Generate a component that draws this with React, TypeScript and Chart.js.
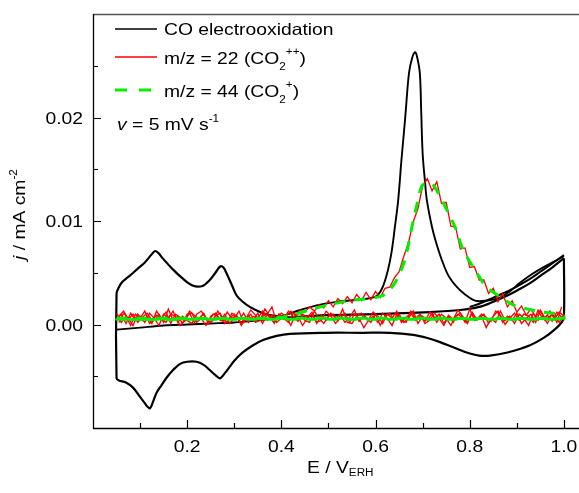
import React, { useEffect, useRef } from "react";
import { Chart, registerables } from "chart.js";

Chart.register(...registerables);

const FONT = "'Liberation Sans', Arial, sans-serif";
const SX = 1.17;

// Potential grids (V vs ERH)
const E_GRID = [0.05,0.06,0.07,0.08,0.09,0.10,0.11,0.12,0.13,0.14,0.15,0.16,0.17,0.18,0.19,0.20,0.21,0.22,0.23,0.24,0.25,0.26,0.27,0.28,0.29,0.30,0.31,0.32,0.33,0.34,0.35,0.36,0.37,0.38,0.39,0.40,0.41,0.42,0.43,0.44,0.45,0.46,0.47,0.48,0.49,0.50,0.51,0.52,0.53,0.54,0.55,0.56,0.57,0.58,0.59,0.60,0.61,0.62,0.63,0.64,0.65,0.66,0.67,0.68,0.69,0.70,0.71,0.72,0.73,0.74,0.75,0.76,0.77,0.78,0.79,0.80,0.81,0.82,0.83,0.84,0.85,0.86,0.87,0.88,0.89,0.90,0.91,0.92,0.93,0.94,0.95,0.96,0.97,0.98,0.99,1.00];
const E_REV = [0.995,0.985,0.975,0.965,0.955,0.945,0.935,0.925,0.915,0.905,0.895,0.885,0.875,0.865,0.855,0.845,0.835,0.825,0.815,0.805,0.795,0.785,0.775,0.765,0.755,0.745,0.735,0.725,0.715,0.705,0.695,0.685,0.675,0.665,0.655,0.645,0.635,0.625,0.615,0.605,0.595,0.585,0.575,0.565,0.555,0.545,0.535,0.525,0.515,0.505,0.495,0.485,0.475,0.465,0.455,0.445,0.435,0.425,0.415,0.405,0.395,0.385,0.375,0.365,0.355,0.345,0.335,0.325,0.315,0.305,0.295,0.285,0.275,0.265,0.255,0.245,0.235,0.225,0.215,0.205,0.195,0.185,0.175,0.165,0.155,0.145,0.135,0.125,0.115,0.105,0.095,0.085,0.075,0.065,0.055];

// m/z = 22 signal (scaled): first scan with CO2 peak, returns, second scan
const RED_SCAN1_J = [
  0.0004,0.0010,0.0001,0.0011,0.0004,0.0008,0.0002,0.0011,0.0006,-0.0001,
  0.0010,0.0006,0.0013,0.0002,0.0008,0.0004,0.0001,0.0010,0.0013,0.0006,
  0.0002,0.0008,0.0011,0.0001,0.0006,0.0010,0.0004,0.0011,0.0002,0.0008,
  0.0006,0.0013,0.0004,0.0009,0.0005,0.0011,0.0008,0.0013,0.0009,0.0014,
  0.0012,0.0017,0.0013,0.0019,0.0016,0.0023,0.0017,0.0025,0.0020,0.0027,
  0.0021,0.0029,0.0023,0.0031,0.0024,0.0032,0.0026,0.0035,0.0036,0.0045,
  0.0051,0.0066,0.0079,0.0099,0.0112,0.0134,0.0141,0.0129,0.0138,0.0117,
  0.0118,0.0095,0.0094,0.0073,0.0074,0.0055,0.0056,0.0043,0.0043,0.0030,
  0.0035,0.0022,0.0030,0.0017,0.0023,0.0012,0.0018,0.0009,0.0015,0.0007,
  0.0014,0.0006,0.0013,0.0005,0.0012,0.0008
];
const RED_RETURN_J = [
  0.0017,0.0002,0.0011,0.0001,0.0008,0.0004,0.0011,-0.0001,0.0006,0.0010,
  0.0001,0.0008,0.0004,0.0013,0.0002,0.0006,-0.0003,0.0008,0.0004,0.0011,
  0.0001,0.0006,0.0010,0.0002,0.0008,-0.0001,0.0006,0.0011,0.0004,0.0001,
  0.0010,0.0006,0.0013,0.0002,0.0004,0.0010,-0.0001,0.0006,0.0011,0.0002,
  0.0008,0.0004,-0.0003,0.0006,0.0010,0.0002,0.0011,0.0006,0.0001,0.0008,
  0.0013,0.0004,0.0002,0.0010,0.0006,-0.0001,0.0008,0.0011,0.0002,0.0006,
  0.0010,0.0001,0.0008,0.0015,0.0004,0.0002,0.0010,0.0006,-0.0001,0.0008,
  0.0011,0.0002,0.0006,0.0013,0.0004,0.0001,0.0010,0.0006,0.0002,0.0011,
  0.0004,-0.0001,0.0008,0.0010,0.0002,0.0006,0.0013,0.0001,0.0008,0.0004,
  0.0010,-0.0001,0.0006,0.0011,0.0002
];
const RED_RETURN2_J = [
  0.0007,0.0012,0.0003,0.0009,0.0005,0.0014,0.0002,0.0008,0.0010,0.0004,
  0.0011,0.0006,0.0000,0.0009,0.0013,0.0003,0.0007,0.0010,0.0005,0.0012,
  0.0002,0.0008,0.0014,0.0005,0.0009,0.0001,0.0010,0.0006,0.0012,0.0003,
  0.0009,0.0004,0.0011,0.0007,0.0002,0.0013,0.0006,0.0010,0.0001,0.0008,
  0.0012,0.0005,0.0009,0.0003,0.0014,0.0007,0.0002,0.0010,0.0006,0.0011,
  0.0004,0.0009,0.0001,0.0012,0.0007,0.0010,0.0003,0.0008,0.0013,0.0005,
  0.0010,0.0002,0.0007,0.0011,0.0004,0.0009,0.0014,0.0006,0.0001,0.0009,
  0.0006,0.0012,0.0003,0.0008,0.0010,0.0002,0.0011,0.0005,0.0009,0.0013,
  0.0003,0.0007,0.0010,0.0001,0.0012,0.0006,0.0009,0.0004,0.0011,0.0007,
  0.0002,0.0010,0.0005,0.0013,0.0008
];
const RED_SCAN2_J = [
  0.0011,0.0002,0.0008,-0.0001,0.0010,0.0006,0.0013,0.0001,0.0004,0.0010,
  0.0002,0.0015,0.0004,0.0008,0.0001,0.0010,0.0011,0.0002,0.0006,-0.0001,
  0.0008,0.0011,0.0004,0.0010,0.0001,0.0006,0.0013,0.0002,0.0008,0.0004,
  0.0011,0.0001,0.0010,0.0017,0.0002,0.0006,0.0008,-0.0001,0.0010,0.0011,
  0.0004,0.0002,0.0013,0.0006,0.0001,0.0008,0.0010,0.0004,0.0015,0.0002,
  0.0001,0.0008,0.0011,0.0006,0.0002,0.0010,-0.0001,0.0008,0.0011,0.0004,
  0.0010,0.0002,0.0006,0.0013,0.0001,0.0008,0.0004,0.0011,0.0002,0.0010,
  0.0006,-0.0001,0.0008,0.0011,0.0002,0.0015,0.0004,0.0006,0.0010,0.0001,
  0.0008,0.0013,0.0002,0.0008,0.0004,0.0011,0.0001,0.0006,0.0010,0.0002,
  0.0013,0.0004,0.0008,0.0011,0.0002,0.0010
];

// m/z = 44 signal (scaled, smoothed)
const GREEN_E = [0.05,0.20,0.38,0.42,0.46,0.50,0.545,0.60,0.62,0.641,0.662,0.677,0.69,0.70,0.72,0.741,0.769,0.786,0.815,0.836,0.864,0.892,0.913,0.955,0.99,1.0,1.0,0.70,0.40,0.05,0.40,0.70,1.0];
const GREEN_J = [0.0006,0.0006,0.0006,0.0009,0.0014,0.0019,0.0023,0.0026,0.0029,0.0040,0.0062,0.0094,0.0120,0.0135,0.0136,0.0120,0.0094,0.0072,0.0050,0.0036,0.0027,0.0019,0.0016,0.0012,0.0010,0.0008,0.0006,0.0006,0.0006,0.0005,0.0005,0.0005,0.0005];

// CO stripping, first anodic scan
const CO_SCAN_E = [0.05,0.10,0.15,0.20,0.25,0.30,0.35,0.40,0.44,0.48,0.52,0.56,0.60,0.614,0.626,0.634,0.641,0.648,0.655,0.663,0.671,0.678,0.684,0.688,0.694,0.697,0.70,0.705,0.709,0.72,0.73,0.741,0.755,0.773,0.79,0.811,0.835,0.864,0.885,0.906,0.93,0.955,0.98,1.0];
const CO_SCAN_J = [-0.0005,-0.0003,-0.0001,0.0000,0.0001,0.0002,0.0004,0.0008,0.0014,0.0019,0.0022,0.0024,0.0027,0.0035,0.0052,0.0070,0.0094,0.0120,0.0159,0.0200,0.0243,0.0258,0.0263,0.0259,0.0243,0.0205,0.0165,0.0138,0.0120,0.0094,0.0077,0.0062,0.0047,0.0036,0.0029,0.0023,0.0023,0.0026,0.0032,0.0040,0.0048,0.0055,0.0061,0.0066];

// Subsequent CV cycle (blank)
const CV_E = [1.0,1.0,0.995,0.985,0.96,0.928,0.88,0.843,0.82,0.80,0.77,0.737,0.71,0.68,0.63,0.573,0.49,0.418,0.39,0.361,0.34,0.318,0.30,0.29,0.28,0.27,0.26,0.248,0.235,0.22,0.20,0.185,0.17,0.157,0.145,0.135,0.128,0.121,0.115,0.11,0.10,0.085,0.07,0.055,0.05,
  0.05,0.055,0.062,0.072,0.083,0.095,0.11,0.125,0.132,0.139,0.146,0.168,0.189,0.21,0.231,0.248,0.26,0.27,0.277,0.284,0.295,0.305,0.318,0.333,0.35,0.375,0.418,0.49,0.6,0.716,0.78,0.82,0.85,0.88,0.905,0.928,0.95,0.975,1.0];
const CV_J = [0.0064,0.0007,0.0002,-0.0003,-0.0012,-0.0020,-0.0027,-0.0030,-0.0030,-0.0028,-0.0023,-0.0017,-0.0013,-0.0010,-0.0008,-0.0008,-0.0008,-0.0009,-0.0011,-0.0015,-0.0020,-0.0027,-0.0035,-0.0041,-0.0047,-0.0052,-0.0049,-0.0044,-0.0039,-0.0036,-0.0036,-0.0038,-0.0044,-0.0051,-0.0059,-0.0066,-0.0074,-0.0081,-0.0079,-0.0076,-0.0070,-0.0061,-0.0056,-0.0054,-0.0052,
  0.0030,0.0036,0.0041,0.0045,0.0049,0.0054,0.0060,0.0068,0.0071,0.0069,0.0065,0.0054,0.0045,0.0038,0.0037,0.0043,0.0050,0.0056,0.0055,0.0049,0.0038,0.0028,0.0022,0.0017,0.0013,0.0009,0.0007,0.0009,0.0010,0.0012,0.0014,0.0017,0.0022,0.0028,0.0034,0.0040,0.0047,0.0055,0.0064];
const CV3_E = [0.80,0.82,0.85,0.88,0.905,0.928,0.95,0.975,1.0];
const CV3_J = [0.0017,0.0020,0.0026,0.0032,0.0038,0.0044,0.0051,0.0059,0.0067];

const X_MAJOR = [0.2, 0.4, 0.6, 0.8, 1.0];
const X_LABELS = ["0.2", "0.4", "0.6", "0.8", "1.0"];
const X_MINOR = [0.1, 0.3, 0.5, 0.7, 0.9];
const Y_MAJOR = [0.0, 0.01, 0.02];
const Y_LABELS = ["0.00", "0.01", "0.02"];
const Y_MINOR = [-0.005, 0.005, 0.015, 0.025];

const pairs = (e: number[], j: number[]) => e.map((x, i) => ({ x, y: j[i] }));

type Part = { t: string; size?: number; dy?: number; italic?: boolean };

function measureRich(ctx: CanvasRenderingContext2D, parts: Part[]) {
  let w = 0;
  for (const p of parts) {
    ctx.font = `${p.italic ? "italic " : ""}${p.size ?? 16.5}px ${FONT}`;
    w += ctx.measureText(p.t).width;
  }
  return w * SX;
}

function drawRich(ctx: CanvasRenderingContext2D, parts: Part[], x: number, y: number) {
  ctx.save();
  ctx.translate(x, y);
  ctx.scale(SX, 1);
  ctx.textAlign = "left";
  ctx.textBaseline = "alphabetic";
  ctx.fillStyle = "#000";
  let cx = 0;
  for (const p of parts) {
    ctx.font = `${p.italic ? "italic " : ""}${p.size ?? 16.5}px ${FONT}`;
    ctx.fillText(p.t, cx, p.dy ?? 0);
    cx += ctx.measureText(p.t).width;
  }
  ctx.restore();
}

const decorPlugin = {
  id: "decor",
  afterDatasetsDraw(chart: any) {
    const ctx: CanvasRenderingContext2D = chart.ctx;
    const { left, right, top, bottom } = chart.chartArea;
    const xs = chart.scales.x;
    const ys = chart.scales.y;
    ctx.save();
    ctx.strokeStyle = "#555";
    ctx.lineWidth = 1.5;
    ctx.beginPath();
    ctx.moveTo(left, top + 0.5);
    ctx.lineTo(right, top + 0.5);
    ctx.stroke();
    ctx.strokeStyle = "#000";
    ctx.lineWidth = 1.3;
    ctx.beginPath();
    ctx.moveTo(left + 0.5, top);
    ctx.lineTo(left + 0.5, bottom + 0.5);
    ctx.lineTo(right, bottom + 0.5);
    ctx.stroke();
    ctx.lineWidth = 1.2;
    ctx.beginPath();
    for (const v of X_MAJOR) {
      const px = Math.round(xs.getPixelForValue(v)) + 0.5;
      ctx.moveTo(px, bottom);
      ctx.lineTo(px, bottom - 8);
    }
    for (const v of X_MINOR) {
      const px = Math.round(xs.getPixelForValue(v)) + 0.5;
      ctx.moveTo(px, bottom);
      ctx.lineTo(px, bottom - 5);
    }
    for (const v of Y_MAJOR) {
      const py = Math.round(ys.getPixelForValue(v)) + 0.5;
      ctx.moveTo(left, py);
      ctx.lineTo(left + 8, py);
    }
    for (const v of Y_MINOR) {
      const py = Math.round(ys.getPixelForValue(v)) + 0.5;
      ctx.moveTo(left, py);
      ctx.lineTo(left + 5, py);
    }
    ctx.stroke();
    ctx.restore();
  },
  afterDraw(chart: any) {
    const ctx: CanvasRenderingContext2D = chart.ctx;
    const xs = chart.scales.x;
    const ys = chart.scales.y;
    const { left } = chart.chartArea;
    X_MAJOR.forEach((v, i) => {
      const parts = [{ t: X_LABELS[i] }];
      const w = measureRich(ctx, parts);
      drawRich(ctx, parts, xs.getPixelForValue(v) - w / 2, 452);
    });
    Y_MAJOR.forEach((v, i) => {
      const parts = [{ t: Y_LABELS[i] }];
      const w = measureRich(ctx, parts);
      drawRich(ctx, parts, left - 10 - w, ys.getPixelForValue(v) + 6);
    });
    drawRich(ctx, [{ t: "E / V" }, { t: "ERH", size: 10, dy: 3 }], 307, 473);
    ctx.save();
    ctx.translate(25, 260);
    ctx.rotate(-Math.PI / 2);
    drawRich(ctx, [{ t: "j", italic: true }, { t: " / mA cm" }, { t: "-2", size: 10, dy: -8 }], 0, 0);
    ctx.restore();
    ctx.save();
    ctx.lineCap = "butt";
    ctx.strokeStyle = "#000";
    ctx.lineWidth = 1.5;
    ctx.beginPath();
    ctx.moveTo(115, 29);
    ctx.lineTo(157, 29);
    ctx.stroke();
    ctx.strokeStyle = "#ff0000";
    ctx.lineWidth = 1.3;
    ctx.beginPath();
    ctx.moveTo(115, 57);
    ctx.lineTo(157, 57);
    ctx.stroke();
    ctx.strokeStyle = "#00f000";
    ctx.lineWidth = 3;
    ctx.setLineDash([12, 12]);
    ctx.beginPath();
    ctx.moveTo(115, 90);
    ctx.lineTo(157, 90);
    ctx.stroke();
    ctx.restore();
    drawRich(ctx, [{ t: "CO electrooxidation" }], 164, 35);
    drawRich(ctx, [{ t: "m/z = 22 (CO" }, { t: "2", size: 10, dy: 6 }, { t: "++", size: 10, dy: -9 }, { t: ")" }], 164, 63.5);
    drawRich(ctx, [{ t: "m/z = 44 (CO" }, { t: "2", size: 10, dy: 6 }, { t: "+", size: 10, dy: -9 }, { t: ")" }], 164, 97);
    drawRich(ctx, [{ t: "v", italic: true }, { t: " = 5 mV s" }, { t: "-1", size: 10, dy: -8 }], 117, 130);
  },
};

export default function App() {
  const ref = useRef<HTMLCanvasElement>(null);
  useEffect(() => {
    document.body.style.margin = "0";
    const canvas = ref.current!;
    const black = (data: any, width: number) => ({
      data,
      borderColor: "#000",
      borderWidth: width,
      pointRadius: 0,
      tension: 0.35,
      fill: false,
      order: 2,
    });
    const red = (data: any) => ({
      data,
      borderColor: "#ff0000",
      borderWidth: 1.3,
      pointRadius: 0,
      tension: 0,
      fill: false,
      order: 1,
    });
    const chart = new Chart(canvas, {
      type: "line",
      data: {
        datasets: [
          {
            data: pairs(GREEN_E, GREEN_J),
            borderColor: "#00f000",
            borderWidth: 3,
            borderDash: [11, 9],
            pointRadius: 0,
            tension: 0.25,
            fill: false,
            order: 0,
          },
          red(pairs(E_GRID, RED_SCAN1_J)),
          red(pairs(E_REV, RED_RETURN_J)),
          red(pairs(E_GRID, RED_SCAN2_J)),
          red(pairs(E_REV, RED_RETURN2_J)),
          black(pairs(CO_SCAN_E, CO_SCAN_J), 1.9),
          black(pairs(CV_E, CV_J), 2.2),
          black(pairs(CV3_E, CV3_J), 2),
        ] as any,
      },
      options: {
        responsive: false,
        maintainAspectRatio: false,
        devicePixelRatio: 1,
        animation: false,
        layout: { padding: { top: 14, left: 0, right: 0, bottom: 0 } },
        plugins: { legend: { display: false }, tooltip: { enabled: false } },
        scales: {
          x: {
            type: "linear",
            min: 0,
            max: 1.032,
            grid: { display: false },
            border: { display: false },
            ticks: { display: false },
            afterFit: (s: any) => { s.height = 65; },
          },
          y: {
            type: "linear",
            min: -0.01,
            max: 0.03,
            grid: { display: false },
            border: { display: false },
            ticks: { display: false },
            afterFit: (s: any) => { s.width = 93; },
          },
        },
      },
      plugins: [decorPlugin],
    } as any);
    return () => chart.destroy();
  }, []);
  return (
    <div style={{ width: 579, height: 493 }}>
      <canvas ref={ref} width={579} height={493} style={{ width: 579, height: 493, display: "block" }} />
    </div>
  );
}
